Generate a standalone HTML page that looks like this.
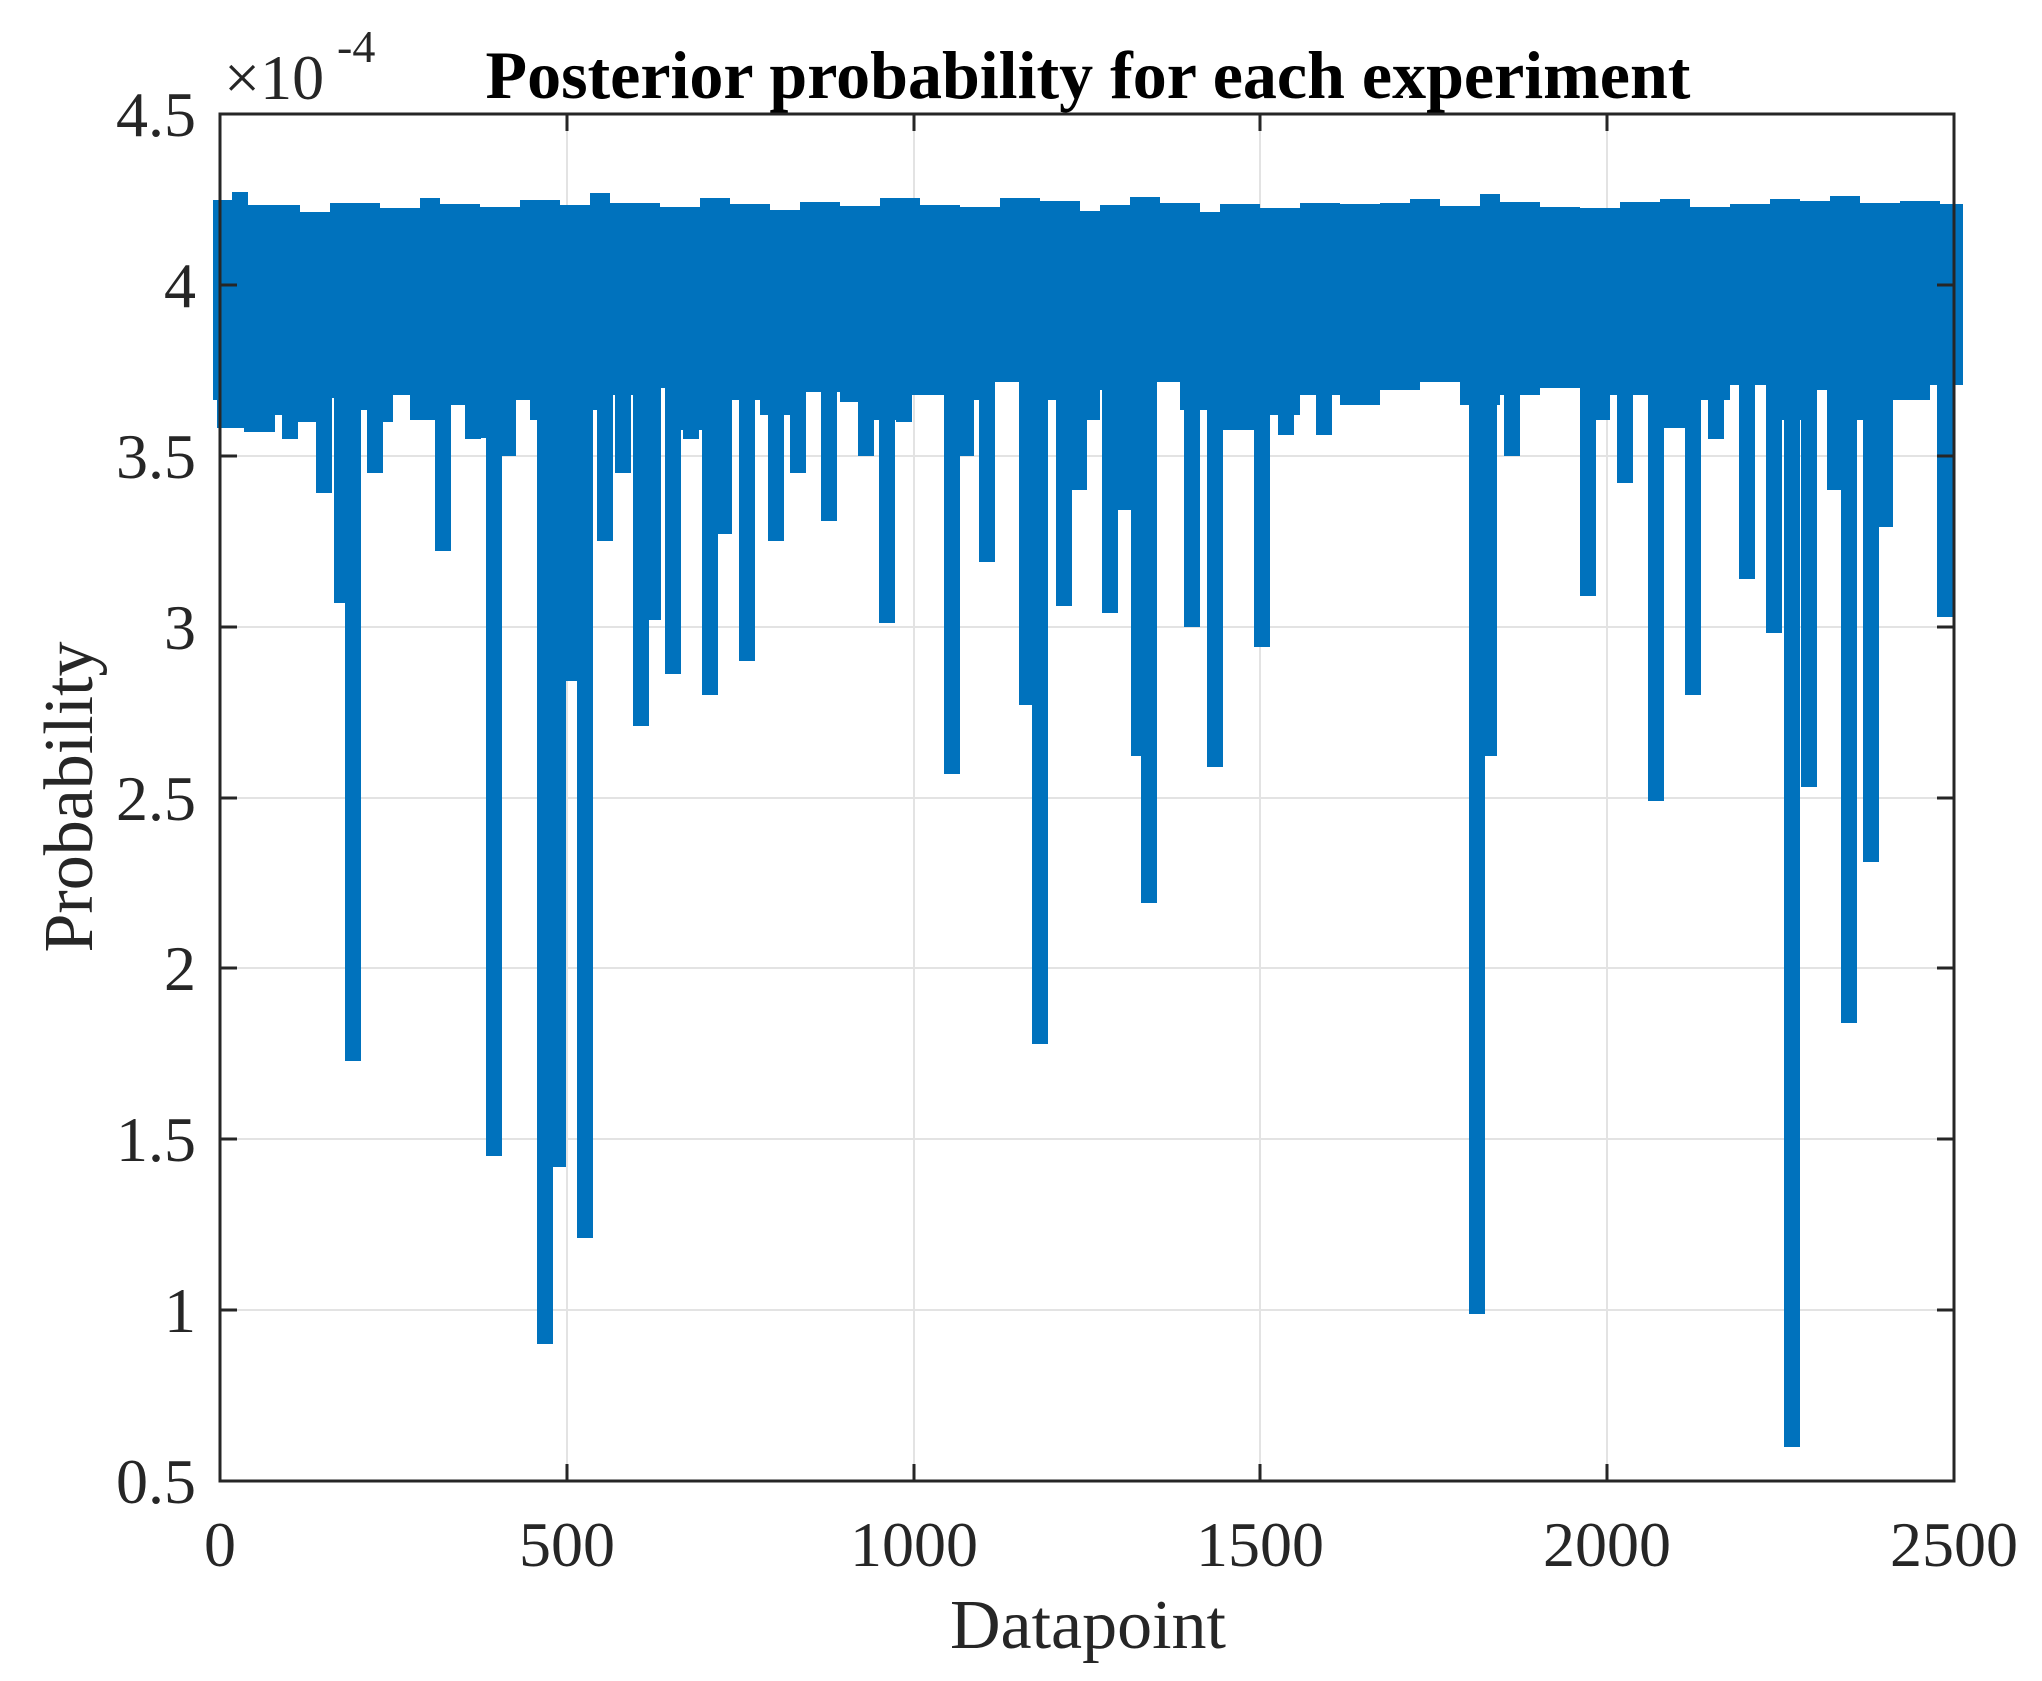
<!DOCTYPE html>
<html><head><meta charset="utf-8"><style>
html,body{margin:0;padding:0;background:#fff;}
svg{display:block;}
text{font-family:"Liberation Serif",serif;fill:#262626;}
</style></head><body>
<svg width="2042" height="1681" viewBox="0 0 2042 1681" xmlns="http://www.w3.org/2000/svg">
<rect width="2042" height="1681" fill="#fff"/>
<g stroke="#e3e3e3" stroke-width="2">
<line x1="567" y1="114" x2="567" y2="1481"/><line x1="914" y1="114" x2="914" y2="1481"/><line x1="1260" y1="114" x2="1260" y2="1481"/><line x1="1607" y1="114" x2="1607" y2="1481"/>
<line x1="220" y1="285" x2="1954" y2="285"/><line x1="220" y1="456" x2="1954" y2="456"/><line x1="220" y1="627" x2="1954" y2="627"/><line x1="220" y1="798" x2="1954" y2="798"/><line x1="220" y1="968" x2="1954" y2="968"/><line x1="220" y1="1139" x2="1954" y2="1139"/><line x1="220" y1="1310" x2="1954" y2="1310"/>
</g>
<g fill="#0072BD">
<rect x="213" y="212" width="1750" height="170"/>
<path d="M213 212 L213 200 L232 200 L232 192 L248 192 L248 205 L300 205 L300 212 L330 212 L330 203 L380 203 L380 208 L420 208 L420 198 L440 198 L440 204 L480 204 L480 207 L520 207 L520 200 L560 200 L560 205 L590 205 L590 193 L610 193 L610 203 L660 203 L660 207 L700 207 L700 198 L730 198 L730 204 L770 204 L770 210 L800 210 L800 202 L840 202 L840 206 L880 206 L880 198 L920 198 L920 205 L960 205 L960 207 L1000 207 L1000 198 L1040 198 L1040 201 L1080 201 L1080 211 L1100 211 L1100 205 L1130 205 L1130 197 L1160 197 L1160 203 L1200 203 L1200 212 L1220 212 L1220 204 L1260 204 L1260 208 L1300 208 L1300 203 L1340 203 L1340 204 L1380 204 L1380 203 L1410 203 L1410 199 L1440 199 L1440 206 L1480 206 L1480 194 L1500 194 L1500 202 L1540 202 L1540 207 L1580 207 L1580 208 L1620 208 L1620 202 L1660 202 L1660 199 L1690 199 L1690 207 L1730 207 L1730 204 L1770 204 L1770 199 L1800 199 L1800 201 L1830 201 L1830 196 L1860 196 L1860 203 L1900 203 L1900 201 L1940 201 L1940 204 L1963 204 L1963 212 Z"/>
<path d="M213 370 L213 400 L230 400 L230 428 L248 428 L248 432 L275 432 L275 415 L295 415 L295 422 L320 422 L320 398 L350 398 L350 410 L380 410 L380 395 L410 395 L410 420 L450 420 L450 405 L480 405 L480 438 L500 438 L500 400 L530 400 L530 420 L560 420 L560 410 L600 410 L600 395 L640 395 L640 388 L680 388 L680 430 L720 430 L720 400 L760 400 L760 415 L800 415 L800 392 L840 392 L840 402 L870 402 L870 420 L910 420 L910 395 L950 395 L950 400 L990 400 L990 380 L1030 380 L1030 400 L1070 400 L1070 420 L1100 420 L1100 390 L1150 390 L1150 380 L1180 380 L1180 410 L1220 410 L1220 430 L1260 430 L1260 415 L1300 415 L1300 395 L1340 395 L1340 405 L1380 405 L1380 390 L1420 390 L1420 380 L1460 380 L1460 405 L1500 405 L1500 395 L1540 395 L1540 388 L1580 388 L1580 420 L1610 420 L1610 395 L1650 395 L1650 428 L1690 428 L1690 400 L1730 400 L1730 385 L1770 385 L1770 420 L1810 420 L1810 390 L1850 390 L1850 420 L1890 420 L1890 400 L1930 400 L1930 385 L1963 385 L1963 370 Z"/>
<rect x="217" y="350" width="16" height="78"/><rect x="244" y="350" width="16" height="82"/><rect x="260" y="350" width="16" height="65"/><rect x="282" y="350" width="16" height="89"/><rect x="299" y="350" width="16" height="72"/><rect x="316" y="350" width="16" height="143"/><rect x="334" y="350" width="16" height="253"/><rect x="345" y="350" width="16" height="711"/><rect x="367" y="350" width="16" height="123"/><rect x="377" y="350" width="16" height="72"/><rect x="435" y="350" width="16" height="201"/><rect x="465" y="350" width="16" height="89"/><rect x="486" y="350" width="16" height="806"/><rect x="500" y="350" width="16" height="106"/><rect x="537" y="350" width="16" height="994"/><rect x="550" y="350" width="16" height="817"/><rect x="563" y="350" width="16" height="331"/><rect x="577" y="350" width="16" height="888"/><rect x="597" y="350" width="16" height="191"/><rect x="615" y="350" width="16" height="123"/><rect x="633" y="350" width="16" height="376"/><rect x="645" y="350" width="16" height="270"/><rect x="665" y="350" width="16" height="324"/><rect x="683" y="350" width="16" height="89"/><rect x="702" y="350" width="16" height="345"/><rect x="716" y="350" width="16" height="184"/><rect x="739" y="350" width="16" height="311"/><rect x="768" y="350" width="16" height="191"/><rect x="790" y="350" width="16" height="123"/><rect x="821" y="350" width="16" height="171"/><rect x="858" y="350" width="16" height="106"/><rect x="879" y="350" width="16" height="273"/><rect x="896" y="350" width="16" height="72"/><rect x="944" y="350" width="16" height="424"/><rect x="958" y="350" width="16" height="106"/><rect x="979" y="350" width="16" height="212"/><rect x="1019" y="350" width="16" height="355"/><rect x="1032" y="350" width="16" height="694"/><rect x="1056" y="350" width="16" height="256"/><rect x="1071" y="350" width="16" height="140"/><rect x="1102" y="350" width="16" height="263"/><rect x="1118" y="350" width="16" height="160"/><rect x="1131" y="350" width="16" height="406"/><rect x="1141" y="350" width="16" height="553"/><rect x="1184" y="350" width="16" height="277"/><rect x="1207" y="350" width="16" height="417"/><rect x="1254" y="350" width="16" height="297"/><rect x="1278" y="350" width="16" height="85"/><rect x="1316" y="350" width="16" height="85"/><rect x="1469" y="350" width="16" height="964"/><rect x="1481" y="350" width="16" height="406"/><rect x="1504" y="350" width="16" height="106"/><rect x="1580" y="350" width="16" height="246"/><rect x="1617" y="350" width="16" height="133"/><rect x="1648" y="350" width="16" height="451"/><rect x="1685" y="350" width="16" height="345"/><rect x="1708" y="350" width="16" height="89"/><rect x="1739" y="350" width="16" height="229"/><rect x="1766" y="350" width="16" height="283"/><rect x="1784" y="350" width="16" height="1097"/><rect x="1801" y="350" width="16" height="437"/><rect x="1827" y="350" width="16" height="140"/><rect x="1841" y="350" width="16" height="673"/><rect x="1863" y="350" width="16" height="512"/><rect x="1877" y="350" width="16" height="177"/><rect x="1937" y="350" width="16" height="267"/>
</g>
<g stroke="#262626" stroke-width="3" fill="none">
<rect x="220" y="114" width="1734" height="1367"/>
</g>
<g stroke="#262626" stroke-width="3">
<line x1="567" y1="1481" x2="567" y2="1464"/><line x1="914" y1="1481" x2="914" y2="1464"/><line x1="1260" y1="1481" x2="1260" y2="1464"/><line x1="1607" y1="1481" x2="1607" y2="1464"/>
<line x1="567" y1="114" x2="567" y2="131"/><line x1="914" y1="114" x2="914" y2="131"/><line x1="1260" y1="114" x2="1260" y2="131"/><line x1="1607" y1="114" x2="1607" y2="131"/>
<line x1="220" y1="285" x2="237" y2="285"/><line x1="220" y1="456" x2="237" y2="456"/><line x1="220" y1="627" x2="237" y2="627"/><line x1="220" y1="798" x2="237" y2="798"/><line x1="220" y1="968" x2="237" y2="968"/><line x1="220" y1="1139" x2="237" y2="1139"/><line x1="220" y1="1310" x2="237" y2="1310"/>
<line x1="1954" y1="285" x2="1937" y2="285"/><line x1="1954" y1="456" x2="1937" y2="456"/><line x1="1954" y1="627" x2="1937" y2="627"/><line x1="1954" y1="798" x2="1937" y2="798"/><line x1="1954" y1="968" x2="1937" y2="968"/><line x1="1954" y1="1139" x2="1937" y2="1139"/><line x1="1954" y1="1310" x2="1937" y2="1310"/>
</g>
<g font-size="64" text-anchor="end">
<text x="196" y="136">4.5</text><text x="196" y="307">4</text><text x="196" y="478">3.5</text><text x="196" y="649">3</text><text x="196" y="820">2.5</text><text x="196" y="990">2</text><text x="196" y="1161">1.5</text><text x="196" y="1332">1</text><text x="196" y="1503">0.5</text>
</g>
<g font-size="64" text-anchor="middle">
<text x="220" y="1566">0</text><text x="567" y="1566">500</text><text x="914" y="1566">1000</text><text x="1260" y="1566">1500</text><text x="1607" y="1566">2000</text><text x="1954" y="1566">2500</text>
</g>
<text x="224" y="99" font-size="64">×10</text>
<text x="337" y="62" font-size="46">-4</text>
<text x="1088" y="98" font-size="68" font-weight="bold" text-anchor="middle" style="fill:#000">Posterior probability for each experiment</text>
<text x="1088" y="1648" font-size="70" text-anchor="middle">Datapoint</text>
<text transform="translate(92,797) rotate(-90)" font-size="70" text-anchor="middle">Probability</text>
</svg>
</body></html>
